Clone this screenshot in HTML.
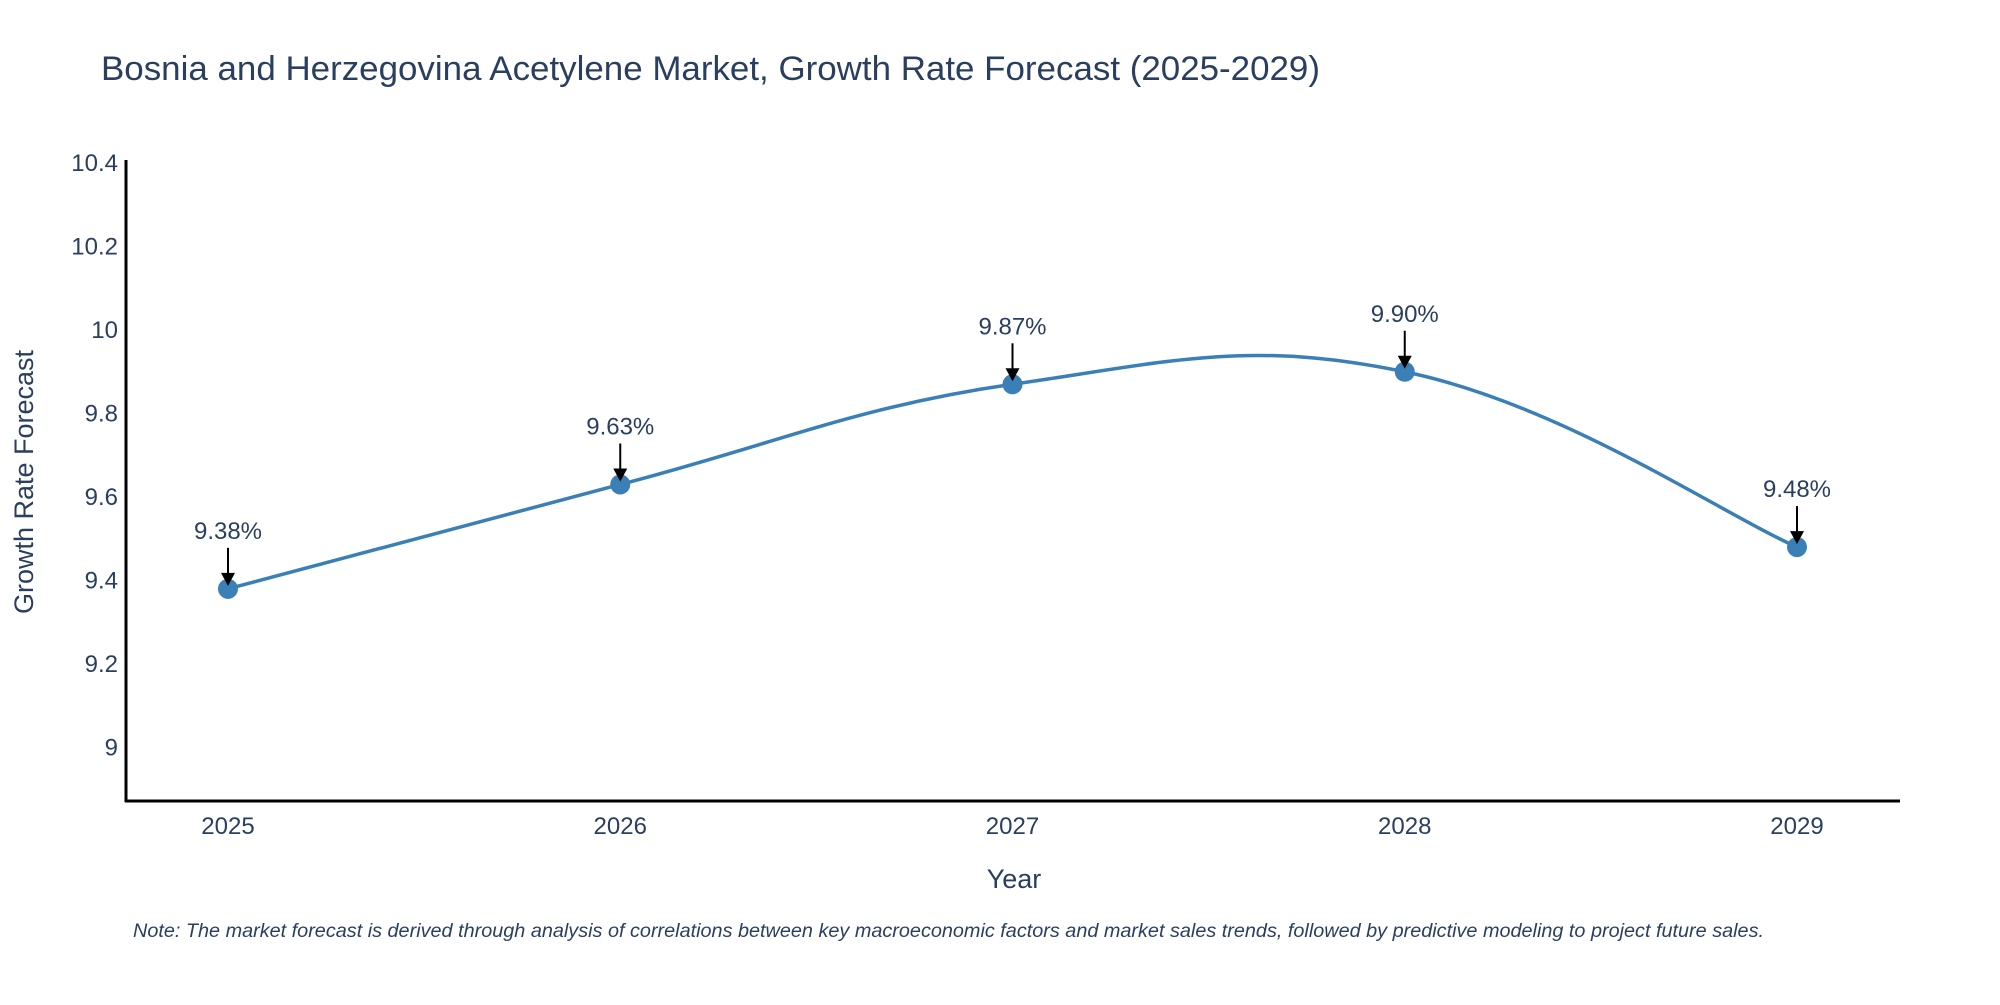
<!DOCTYPE html>
<html><head><meta charset="utf-8"><style>
body{margin:0;background:#fff;}
svg text{font-family:"Liberation Sans",sans-serif;fill:#2a3f5f;}
</style></head><body>
<svg id="chart" width="2000" height="1000">
<text x="101" y="80" font-size="34" textLength="1219" lengthAdjust="spacingAndGlyphs">Bosnia and Herzegovina Acetylene Market, Growth Rate Forecast (2025-2029)</text>
<g id="yticks"></g><g id="xticks"></g>
<line x1="126" y1="160" x2="126" y2="802" stroke="#000" stroke-width="3"/>
<line x1="125" y1="801" x2="1900" y2="801" stroke="#000" stroke-width="3"/>
<path id="line" fill="none" stroke="#3a7fb5" stroke-width="3.5"/>
<g id="marks"></g>
<text x="1014" y="888" font-size="27" text-anchor="middle">Year</text>
<text transform="translate(33,482) rotate(-90)" font-size="27" text-anchor="middle">Growth Rate Forecast</text>
<text x="133" y="937" font-size="19" font-style="italic" textLength="1631" lengthAdjust="spacingAndGlyphs">Note: The market forecast is derived through analysis of correlations between key macroeconomic factors and market sales trends, followed by predictive modeling to project future sales.</text>
</svg>
<script>
const categories=["2025","2026","2027","2028","2029"];
const values=[9.38,9.63,9.87,9.90,9.48];
const labels=["9.38%","9.63%","9.87%","9.90%","9.48%"];
const yTicks=[9,9.2,9.4,9.6,9.8,10,10.2,10.4];
const NS="http://www.w3.org/2000/svg";
function xS(i){return 228+i*(1797-228)/4;}
function yS(v){return 747.5-(v-9)*417.5;}
function mk(t,a,p){const e=document.createElementNS(NS,t);for(const k in a)e.setAttribute(k,a[k]);p.appendChild(e);return e;}
const yt=document.getElementById('yticks');
yTicks.forEach(v=>{const t=mk('text',{x:118,y:yS(v)+8,'font-size':24,'text-anchor':'end'},yt);t.textContent=String(v);

});
const xt=document.getElementById('xticks');
categories.forEach((c,i)=>{const t=mk('text',{x:xS(i),y:834,'font-size':24,'text-anchor':'middle'},xt);t.textContent=c;

});
const P=values.map((v,i)=>[xS(i),yS(v)]);
let d='M'+P[0][0]+','+P[0][1];
for(let i=0;i<P.length-1;i++){const p0=P[Math.max(0,i-1)],p1=P[i],p2=P[i+1],p3=P[Math.min(P.length-1,i+2)];const k=1/5;
d+=` C${p1[0]+(p2[0]-p0[0])*k},${p1[1]+(p2[1]-p0[1])*k} ${p2[0]-(p3[0]-p1[0])*k},${p2[1]-(p3[1]-p1[1])*k} ${p2[0]},${p2[1]}`;}
document.getElementById('line').setAttribute('d',d);
const g=document.getElementById('marks');
P.forEach((p,i)=>{const c=mk('circle',{cx:p[0],cy:p[1],r:10,fill:'#3a7fb5'},g);


const l=mk('line',{x1:p[0],y1:p[1]-41,x2:p[0],y2:p[1]-14,stroke:'#000','stroke-width':2},g);


const a=mk('polygon',{points:`${p[0]-7},${p[1]-16} ${p[0]+7},${p[1]-16} ${p[0]},${p[1]-3}`,fill:'#000'},g);


const t=mk('text',{x:p[0],y:p[1]-50,'font-size':24,'text-anchor':'middle'},g);t.textContent=labels[i];

});
</script>
</body></html>
